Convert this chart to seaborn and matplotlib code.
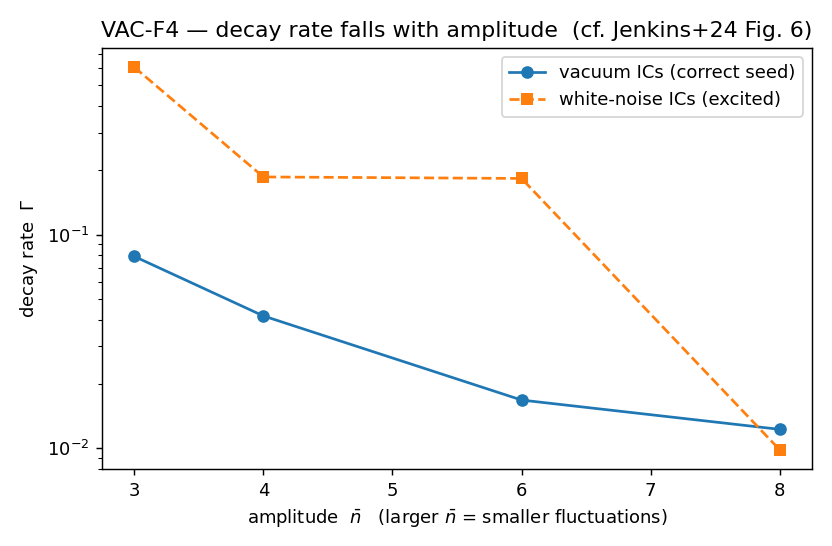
import numpy as np
import pandas as pd
import matplotlib
matplotlib.use('Agg')
import matplotlib.pyplot as plt
import seaborn as sns

# amplitude nbar values and measured decay rates
amplitude = [3, 4, 6, 8]
gamma_vacuum = [0.079, 0.0416, 0.0168, 0.01225]
gamma_noise = [0.607, 0.186, 0.183, 0.00982]

label_vacuum = 'vacuum ICs (correct seed)'
label_noise = 'white-noise ICs (excited)'

fig, ax = plt.subplots(figsize=(6.4, 4.2), dpi=130)

sns.lineplot(x=amplitude, y=gamma_vacuum, ax=ax, color='#1f77b4',
             marker='o', markersize=7, markeredgewidth=0,
             linewidth=1.5, label=label_vacuum)
sns.lineplot(x=amplitude, y=gamma_noise, ax=ax, color='#ff7f0e',
             marker='s', markersize=7, markeredgewidth=0,
             linewidth=1.5, linestyle='--', label=label_noise)

ax.set_yscale('log')
ax.set_xlabel(r'amplitude  $\bar{n}$   (larger $\bar{n}$ = smaller fluctuations)')
ax.set_ylabel(r'decay rate  $\Gamma$')
ax.set_title('VAC-F4 — decay rate falls with amplitude  (cf. Jenkins+24 Fig. 6)',
             fontsize=12.2)
ax.legend(loc='upper right')

fig.subplots_adjust(left=0.1226, right=0.976, top=0.912, bottom=0.141)
plt.savefig('out.png', dpi=130)
